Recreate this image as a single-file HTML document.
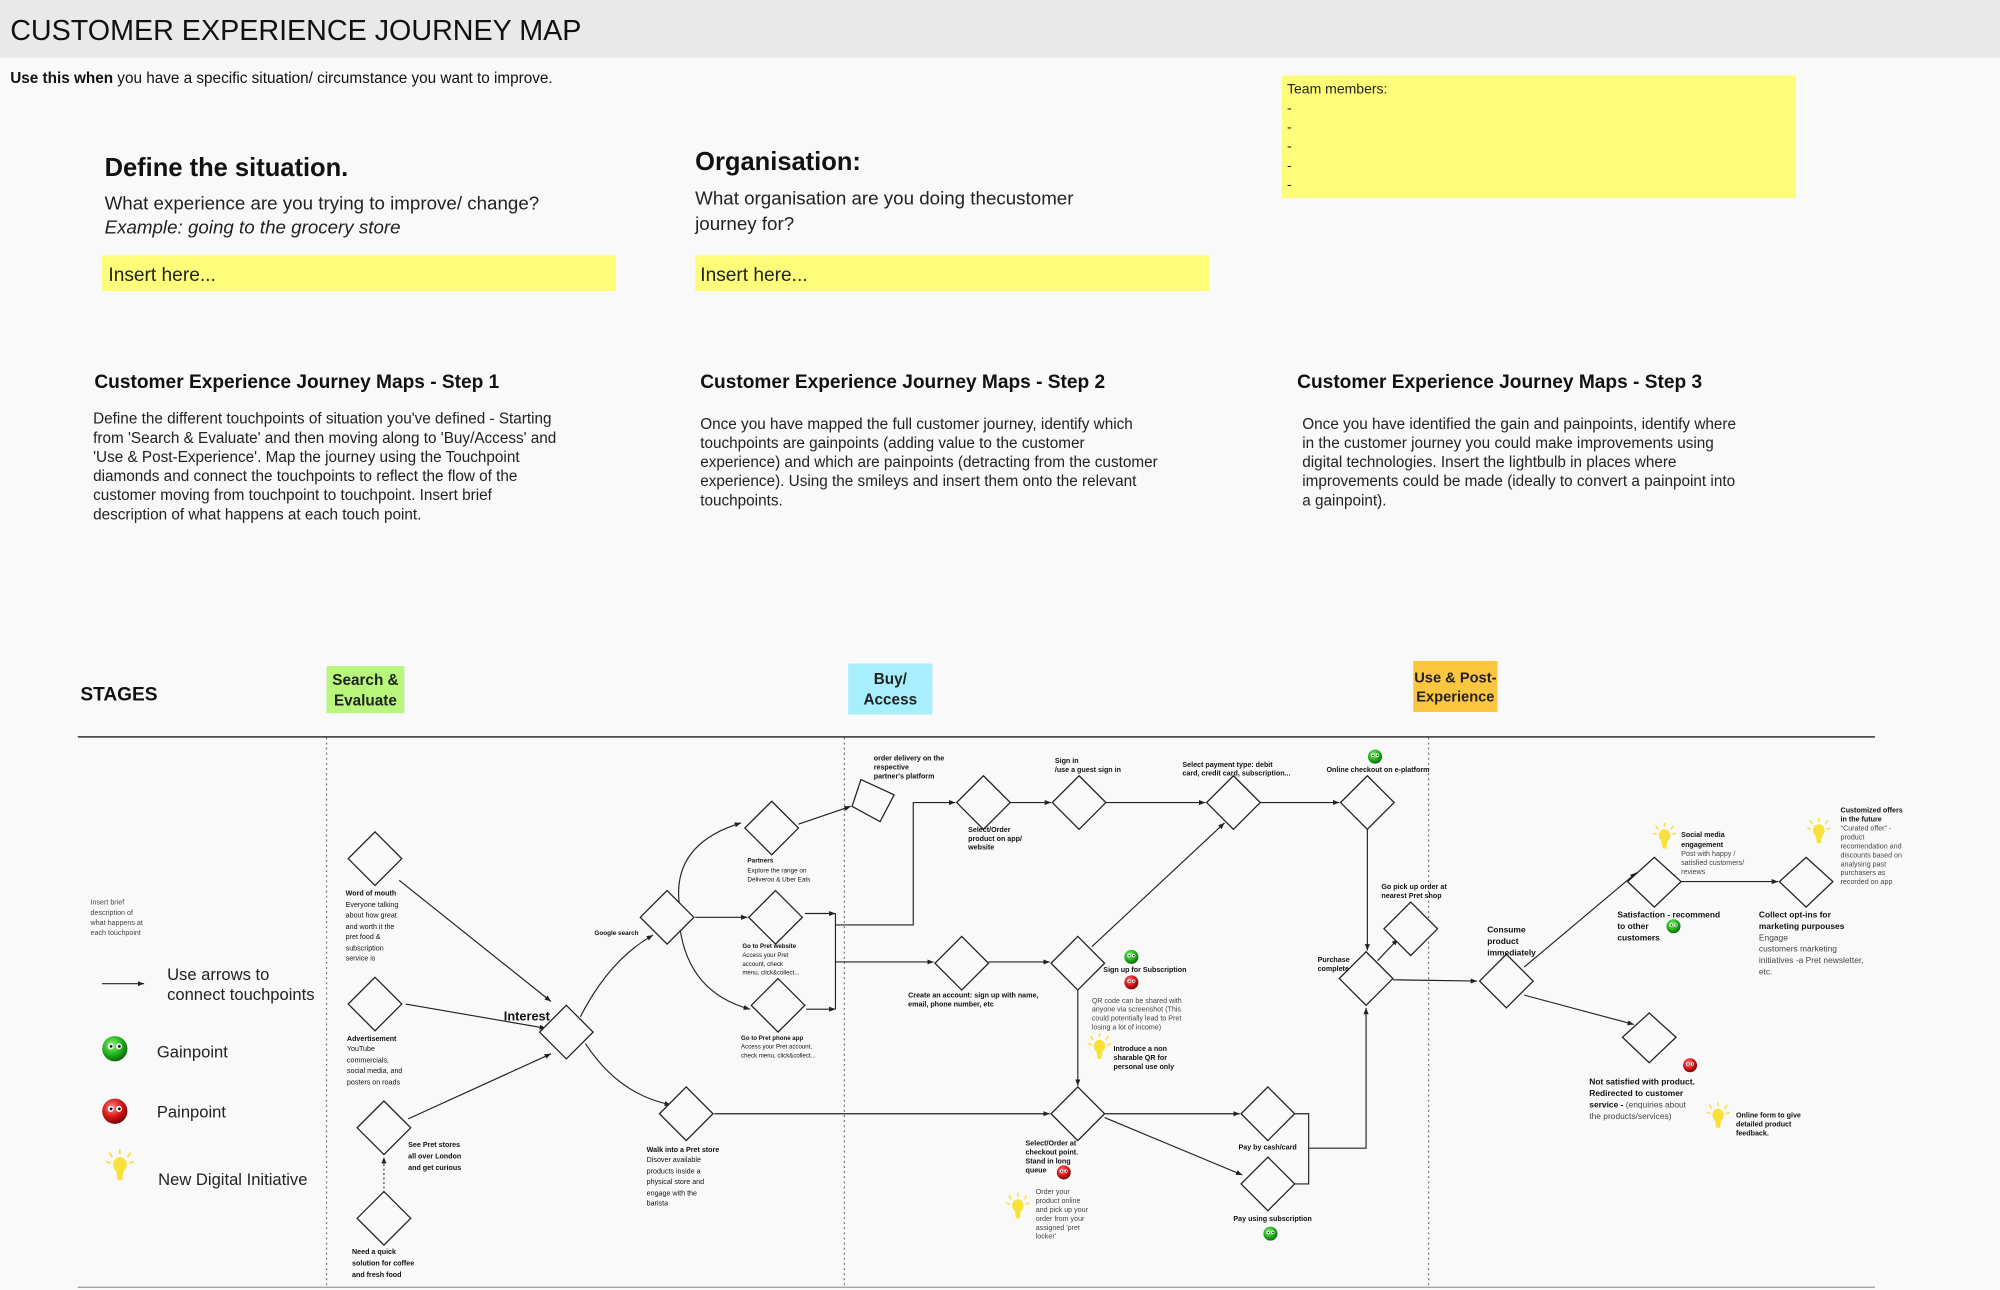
<!DOCTYPE html>
<html><head><meta charset="utf-8"><style>
html,body{margin:0;padding:0;background:#f9f9f9;}
svg{display:block;font-family:"Liberation Sans",sans-serif;}
.d{fill:#fafafa;stroke:#222;stroke-width:1;}
.l{stroke:#222;stroke-width:0.9;fill:none;}
.b{font-weight:bold;}
.s{font-size:5.6px;fill:#111;}
.g{font-size:5.6px;fill:#444;}
</style></head><body>
<svg width="2000" height="1290" viewBox="0 0 1568 1011" xmlns="http://www.w3.org/2000/svg">
<defs>
<marker id="a" markerWidth="6" markerHeight="6" refX="5" refY="3" orient="auto" markerUnits="userSpaceOnUse"><path d="M0,1 L5,3 L0,5 z" fill="#222"/></marker>
<radialGradient id="gg" cx="40%" cy="35%" r="65%"><stop offset="0" stop-color="#8ef27a"/><stop offset="0.6" stop-color="#22b31c"/><stop offset="1" stop-color="#0c6a0a"/></radialGradient>
<radialGradient id="rg" cx="40%" cy="35%" r="65%"><stop offset="0" stop-color="#ff8a8a"/><stop offset="0.6" stop-color="#d81414"/><stop offset="1" stop-color="#7a0606"/></radialGradient>
<g id="sg"><circle r="5.5" fill="url(#gg)"/><circle cx="-1.8" cy="-1" r="1.3" fill="#fff"/><circle cx="1.8" cy="-1" r="1.3" fill="#fff"/><circle cx="-1.6" cy="-1" r="0.6" fill="#000"/><circle cx="2" cy="-1" r="0.6" fill="#000"/></g>
<g id="sr"><circle r="5.5" fill="url(#rg)"/><circle cx="-1.8" cy="-1" r="1.3" fill="#fff"/><circle cx="1.8" cy="-1" r="1.3" fill="#fff"/><circle cx="-1.6" cy="-1" r="0.6" fill="#000"/><circle cx="2" cy="-1" r="0.6" fill="#000"/></g>
<g id="bu"><ellipse cx="0" cy="0" rx="4.5" ry="5" fill="#f8e23a"/><path d="M-2.5,3 L-1.5,10 L1.5,10 L2.5,3 z" fill="#f8e23a"/><g stroke="#f8e23a" stroke-width="1.2"><line x1="0" y1="-7" x2="0" y2="-10"/><line x1="-5" y1="-5" x2="-7" y2="-8"/><line x1="5" y1="-5" x2="7" y2="-8"/><line x1="-6" y1="-1" x2="-9" y2="-2"/><line x1="6" y1="-1" x2="9" y2="-2"/></g></g>
</defs>
<rect width="1568" height="1011" fill="#f9f9f9"/>
<rect x="0" y="0" width="1568" height="45" fill="#e9e9e9"/>
<text x="8" y="31" font-size="22.5" fill="#111">CUSTOMER EXPERIENCE JOURNEY MAP</text>
<text x="8" y="65" font-size="12" fill="#111"><tspan class="b">Use this when</tspan> you have a specific situation/ circumstance you want to improve.</text>
<rect x="1005" y="59" width="403" height="96" fill="#fdfd7a"/>
<g font-size="11" fill="#222"><text x="1009" y="73">Team members:</text><text x="1009" y="88">-</text><text x="1009" y="103">-</text><text x="1009" y="118">-</text><text x="1009" y="133">-</text><text x="1009" y="148">-</text></g>

<text x="82" y="138" font-size="20" class="b" fill="#111">Define the situation.</text>
<text x="82" y="164" font-size="14.7" fill="#222">What experience are you trying to improve/ change?</text>
<text x="82" y="183" font-size="14.7" font-style="italic" fill="#222">Example: going to the grocery store</text>
<rect x="80" y="200" width="403" height="28" fill="#fdfd7a"/>
<text x="85" y="220" font-size="15" fill="#222">Insert here...</text>

<text x="545" y="133" font-size="20" class="b" fill="#111">Organisation:</text>
<text x="545" y="160" font-size="14.7" fill="#222">What organisation are you doing thecustomer</text>
<text x="545" y="180" font-size="14.7" fill="#222">journey for?</text>
<rect x="545" y="200" width="403" height="28" fill="#fdfd7a"/>
<text x="549" y="220" font-size="15" fill="#222">Insert here...</text>

<g font-size="15" class="b" fill="#111"><text x="74" y="304">Customer Experience Journey Maps - Step 1</text><text x="549" y="304">Customer Experience Journey Maps - Step 2</text><text x="1017" y="304">Customer Experience Journey Maps - Step 3</text></g>
<g font-size="12" fill="#222">
<text x="73" y="332">Define the different touchpoints of situation you've defined - Starting</text>
<text x="73" y="347">from 'Search &amp; Evaluate' and then moving along to 'Buy/Access' and</text>
<text x="73" y="362">'Use &amp; Post-Experience'. Map the journey using the Touchpoint</text>
<text x="73" y="377">diamonds and connect the touchpoints to reflect the flow of the</text>
<text x="73" y="392">customer moving from touchpoint to touchpoint. Insert brief</text>
<text x="73" y="407">description of what happens at each touch point.</text>
<text x="549" y="336">Once you have mapped the full customer journey, identify which</text>
<text x="549" y="351">touchpoints are gainpoints (adding value to the customer</text>
<text x="549" y="366">experience) and which are painpoints (detracting from the customer</text>
<text x="549" y="381">experience). Using the smileys and insert them onto the relevant</text>
<text x="549" y="396">touchpoints.</text>
<text x="1021" y="336">Once you have identified the gain and painpoints, identify where</text>
<text x="1021" y="351">in the customer journey you could make improvements using</text>
<text x="1021" y="366">digital technologies. Insert the lightbulb in places where</text>
<text x="1021" y="381">improvements could be made (ideally to convert a painpoint into</text>
<text x="1021" y="396">a gainpoint).</text>
</g>

<text x="63" y="549" font-size="15" class="b" fill="#111">STAGES</text>
<rect x="256" y="522" width="61" height="37" fill="#b8f77c"/>
<g font-size="12" class="b" fill="#222" text-anchor="middle"><text x="286.5" y="537">Search &amp;</text><text x="286.5" y="553">Evaluate</text></g>
<rect x="665" y="520" width="66" height="40" fill="#a8eefc"/>
<g font-size="12" class="b" fill="#222" text-anchor="middle"><text x="698" y="536">Buy/</text><text x="698" y="552">Access</text></g>
<rect x="1108" y="518" width="66" height="40" fill="#fcc63e"/>
<g font-size="11.5" class="b" fill="#222" text-anchor="middle"><text x="1141" y="535">Use &amp; Post-</text><text x="1141" y="550">Experience</text></g>
<line x1="61" y1="577.5" x2="1470" y2="577.5" stroke="#333" stroke-width="1.2"/>
<line x1="61" y1="1009" x2="1470" y2="1009" stroke="#999" stroke-width="1"/>
<g stroke="#777" stroke-width="1" stroke-dasharray="1.5,2.5"><line x1="256" y1="578" x2="256" y2="1008"/><line x1="662" y1="578" x2="662" y2="1008"/><line x1="1120" y1="578" x2="1120" y2="1008"/></g>

<g class="g" fill="#444"><text x="71" y="709">Insert brief</text><text x="71" y="717">description of</text><text x="71" y="725">what happens at</text><text x="71" y="733">each touchpoint</text></g>
<line x1="80" y1="771" x2="113" y2="771" class="l" marker-end="url(#a)"/>
<g font-size="13" fill="#222"><text x="131" y="768">Use arrows to</text><text x="131" y="784">connect touchpoints</text><text x="123" y="829">Gainpoint</text><text x="123" y="876">Painpoint</text><text x="124" y="929">New Digital Initiative</text></g>
<use href="#sg" transform="translate(90,822) scale(1.8)"/>
<use href="#sr" transform="translate(90,871) scale(1.8)"/>
<use href="#bu" transform="translate(94,913) scale(1.2)"/>

<g class="l" marker-end="url(#a)">
<line x1="313" y1="690" x2="432" y2="785"/>
<line x1="318" y1="787" x2="428" y2="806"/>
<line x1="320" y1="877" x2="432" y2="826"/>
<path d="M455,797 Q478,752 512,733"/>
<path d="M459,818 Q485,858 526,866"/>
<path d="M533,712 Q525,662 581,645"/>
<line x1="545" y1="719" x2="586" y2="719"/>
<path d="M533,727 Q540,778 588,791"/>
<line x1="626" y1="646" x2="667" y2="632"/>
<line x1="631" y1="716" x2="655" y2="716"/>
<line x1="632" y1="791" x2="655" y2="791"/>
<path d="M655,725 L716,725 L716,629 L749,629"/>
<line x1="655" y1="754" x2="732" y2="754"/>
<line x1="792" y1="629" x2="824" y2="629"/>
<line x1="867" y1="629" x2="945" y2="629"/>
<line x1="988" y1="629" x2="1050" y2="629"/>
<line x1="1072" y1="650" x2="1072" y2="745"/>
<line x1="775" y1="754" x2="823" y2="754"/>
<line x1="856" y1="742" x2="960" y2="645"/>
<line x1="845" y1="776" x2="845" y2="851"/>
<line x1="560" y1="873" x2="823" y2="873"/>
<line x1="866" y1="873" x2="972" y2="873"/>
<line x1="866" y1="876" x2="974" y2="921"/>
<path d="M1026,900 L1071,900 L1071,790"/>
<line x1="1080" y1="753" x2="1096" y2="736"/>
<line x1="1092" y1="768" x2="1158" y2="769"/>
<line x1="1195" y1="758" x2="1283" y2="684"/>
<line x1="1195" y1="780" x2="1281" y2="803"/>
<line x1="1318" y1="691" x2="1394" y2="691"/>
</g>
<g class="l"><line x1="655" y1="716" x2="655" y2="791"/><path d="M1015,873 L1026,873 L1026,928 L1015,928"/></g>
<line x1="301" y1="935" x2="301" y2="907" stroke="#333" stroke-width="0.9" stroke-dasharray="1.5,2" marker-end="url(#a)"/>

<g class="d">
<polygon points="294,652 315,673 294,694 273,673"/>
<polygon points="294,766 315,787 294,808 273,787"/>
<polygon points="301,863 322,884 301,905 280,884"/>
<polygon points="301,934 322,955 301,976 280,955"/>
<polygon points="444,788 465,809 444,830 423,809"/>
<polygon points="523,698 544,719 523,740 502,719"/>
<polygon points="605,628 626,649 605,670 584,649"/>
<polygon points="608,698 629,719 608,740 587,719"/>
<polygon points="610,767 631,788 610,809 589,788"/>
<polygon points="538,852 559,873 538,894 517,873"/>
<polygon points="675,611 701,623 690,644 668,632"/>
<polygon points="771,608 792,629 771,650 750,629"/>
<polygon points="846,608 867,629 846,650 825,629"/>
<polygon points="967,608 988,629 967,650 946,629"/>
<polygon points="1072,608 1093,629 1072,650 1051,629"/>
<polygon points="754,734 775,755 754,776 733,755"/>
<polygon points="845,734 866,755 845,776 824,755"/>
<polygon points="845,852 866,873 845,894 824,873"/>
<polygon points="994,852 1015,873 994,894 973,873"/>
<polygon points="994,907 1015,928 994,949 973,928"/>
<polygon points="1071,746 1092,767 1071,788 1050,767"/>
<polygon points="1106,707 1127,728 1106,749 1085,728"/>
<polygon points="1181,748 1202,769 1181,790 1160,769"/>
<polygon points="1297,672 1318,691 1297,711 1276,691"/>
<polygon points="1416,672 1437,691 1416,711 1395,691"/>
<polygon points="1293,794 1314,813 1293,833 1272,813"/>
</g>

<use href="#sg" transform="translate(1078,593)"/>
<use href="#sg" transform="translate(887,750)"/>
<use href="#sg" transform="translate(1312,726)"/>
<use href="#sg" transform="translate(996,967)"/>
<use href="#sr" transform="translate(887,770)"/>
<use href="#sr" transform="translate(834,919)"/>
<use href="#sr" transform="translate(1325,835)"/>
<use href="#bu" transform="translate(862,820)"/>
<use href="#bu" transform="translate(798,945)"/>
<use href="#bu" transform="translate(1305,655)"/>
<use href="#bu" transform="translate(1426,651)"/>
<use href="#bu" transform="translate(1347,874)"/>

<g class="s">
<text x="271" y="702" class="b">Word of mouth</text>
<text x="271" y="711">Everyone talking</text><text x="271" y="719">about how great</text><text x="271" y="728">and worth it the</text><text x="271" y="736">pret food &amp;</text><text x="271" y="745">subscription</text><text x="271" y="753">service is</text>
<text x="272" y="816" class="b">Advertisement</text>
<text x="272" y="824">YouTube</text><text x="272" y="833">commercials,</text><text x="272" y="841">social media, and</text><text x="272" y="850">posters on roads</text>
<text x="320" y="899" class="b">See Pret stores</text><text x="320" y="908" class="b">all over London</text><text x="320" y="917" class="b">and get curious</text>
<text x="276" y="983" class="b">Need a quick</text><text x="276" y="992" class="b">solution for coffee</text><text x="276" y="1001" class="b">and fresh food</text>
<text x="466" y="733" class="b" font-size="5">Google search</text>
<text x="586" y="676" class="b" font-size="5">Partners</text><text x="586" y="684" font-size="5">Explore the range on</text><text x="586" y="691" font-size="5">Deliveroo &amp; Uber Eats</text>
<text x="582" y="743" class="b" font-size="4.8">Go to Pret website</text><text x="582" y="750" font-size="4.8">Access your Pret</text><text x="582" y="757" font-size="4.8">account, check</text><text x="582" y="764" font-size="4.8">menu, click&amp;collect...</text>
<text x="581" y="815" class="b" font-size="4.8">Go to Pret phone app</text><text x="581" y="822" font-size="4.8">Access your Pret account,</text><text x="581" y="829" font-size="4.8">check menu, click&amp;collect...</text>
<text x="507" y="903" class="b">Walk into a Pret store</text><text x="507" y="911">Disover available</text><text x="507" y="920">products inside a</text><text x="507" y="928">physical store and</text><text x="507" y="937">engage with the</text><text x="507" y="945">barista</text>
</g>
<text x="395" y="800" font-size="10" class="b" fill="#111">Interest</text>
<g class="s b" font-size="4.8" font-weight="bold">
<text x="685" y="596">order delivery on the</text><text x="685" y="603">respective</text><text x="685" y="610">partner's platform</text>
<text x="827" y="598">Sign in</text><text x="827" y="605">/use a guest sign in</text>
<text x="927" y="601">Select payment type: debit</text><text x="927" y="608">card, credit card, subscription...</text>
<text x="1040" y="605">Online checkout on e-platform</text>
<text x="759" y="652">Select/Order</text><text x="759" y="659">product on app/</text><text x="759" y="666">website</text>
<text x="712" y="782">Create an account: sign up with name,</text><text x="712" y="789">email, phone number, etc</text>
<text x="865" y="762">Sign up for Subscription</text>
<text x="873" y="824">Introduce a non</text><text x="873" y="831">sharable QR for</text><text x="873" y="838">personal use only</text>
<text x="804" y="898">Select/Order at</text><text x="804" y="905">checkout point.</text><text x="804" y="912">Stand in long</text><text x="804" y="919">queue</text>
<text x="971" y="901">Pay by cash/card</text>
<text x="967" y="957">Pay using subscription</text>
<text x="1083" y="697">Go pick up order at</text><text x="1083" y="704">nearest Pret shop</text>
<text x="1033" y="754">Purchase</text><text x="1033" y="761">complete</text>
<text x="1318" y="656">Social media</text><text x="1318" y="664">engagement</text>
<text x="1443" y="637">Customized offers</text><text x="1443" y="644">in the future</text>
<text x="1361" y="876">Online form to give</text><text x="1361" y="883">detailed product</text><text x="1361" y="890">feedback.</text>
</g>
<g class="g" font-size="4.8">
<text x="856" y="786">QR code can be shared with</text><text x="856" y="793">anyone via screenshot (This</text><text x="856" y="800">could potentially lead to Pret</text><text x="856" y="807">losing a lot of income)</text>
<text x="812" y="936">Order your</text><text x="812" y="943">product online</text><text x="812" y="950">and pick up your</text><text x="812" y="957">order from your</text><text x="812" y="964">assigned 'pret</text><text x="812" y="971">locker'</text>
<text x="1318" y="671">Post with happy /</text><text x="1318" y="678">satisfied customers/</text><text x="1318" y="685">reviews</text>
<text x="1443" y="651">"Curated offer" -</text><text x="1443" y="658">product</text><text x="1443" y="665">recomendation and</text><text x="1443" y="672">discounts based on</text><text x="1443" y="679">analysing past</text><text x="1443" y="686">purchasers as</text><text x="1443" y="693">recorded on app</text>
</g>
<g font-size="6.6" fill="#111">
<text x="1166" y="731" class="b">Consume</text><text x="1166" y="740" class="b">product</text><text x="1166" y="749" class="b">immediately</text>
<text x="1268" y="719" class="b">Satisfaction - recommend</text><text x="1268" y="728" class="b">to other</text><text x="1268" y="737" class="b">customers</text>
<text x="1379" y="719" class="b">Collect opt-ins for</text><text x="1379" y="728" class="b">marketing purpouses</text>
<text x="1379" y="737" fill="#444">Engage</text><text x="1379" y="746" fill="#444">customers marketing</text><text x="1379" y="755" fill="#444">initiatives -a Pret newsletter,</text><text x="1379" y="764" fill="#444">etc.</text>
<text x="1246" y="850" class="b">Not satisfied with product.</text><text x="1246" y="859" class="b">Redirected to customer</text><text x="1246" y="868"><tspan class="b">service - </tspan><tspan fill="#444"> (enquiries about</tspan></text><text x="1246" y="877" fill="#444">the products/services)</text>
</g>
</svg>
</body></html>
